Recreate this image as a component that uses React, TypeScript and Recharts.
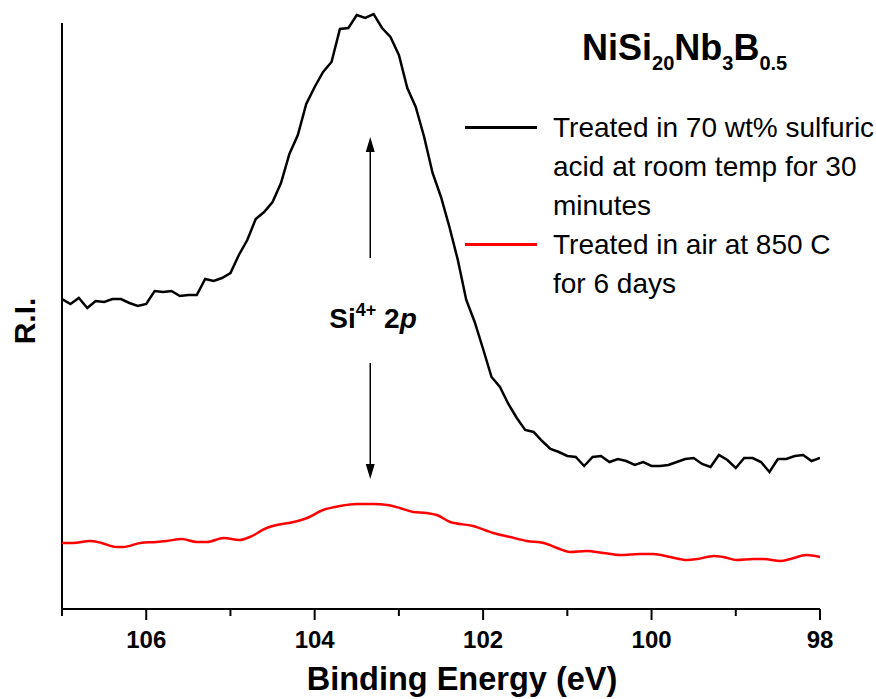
import React from "react";
import { LineChart, Line, XAxis, YAxis, ReferenceLine } from "recharts";

const FONT = "'Liberation Sans', Arial, sans-serif";

// black: treated in 70 wt% sulfuric acid
const acidEnergy = [
  107.0, 106.9, 106.8, 106.7, 106.6, 106.5, 106.4, 106.3, 106.2, 106.1,
  106.0, 105.9, 105.8, 105.7, 105.6, 105.5, 105.4, 105.3, 105.2, 105.1,
  105.0, 104.9, 104.8, 104.7, 104.6, 104.5, 104.4, 104.3, 104.2, 104.1,
  104.0, 103.9, 103.8, 103.7, 103.6, 103.5, 103.4, 103.3, 103.2, 103.1,
  103.0, 102.9, 102.8, 102.7, 102.6, 102.5, 102.4, 102.3, 102.2, 102.1,
  102.0, 101.9, 101.8, 101.7, 101.6, 101.5, 101.4, 101.3, 101.2, 101.1,
  101.0, 100.9, 100.8, 100.7, 100.6, 100.5, 100.4, 100.3, 100.2, 100.1,
  100.0, 99.9, 99.8, 99.7, 99.6, 99.5, 99.4, 99.3, 99.2, 99.1,
  99.0, 98.9, 98.8, 98.7, 98.6, 98.5, 98.4, 98.3, 98.2, 98.1,
  98.0,
];
const acidIntensity = [
  310, 305, 311, 301, 308, 307, 310, 310, 306, 303,
  305, 318, 317, 318, 313, 314, 314, 330, 328, 331,
  336, 354, 369, 390, 397, 407, 426, 455, 474, 505,
  522, 537, 547, 580, 581, 594, 591, 595, 581, 572,
  554, 521, 502, 472, 436, 412, 382, 349, 309, 287,
  260, 232, 222, 205, 191, 179, 177, 168, 160, 157,
  153, 152, 143, 152, 153, 147, 150, 148, 144, 147,
  143, 143, 144, 147, 150, 151, 145, 142, 154, 149,
  141, 151, 151, 147, 137, 150, 150, 153, 154, 148,
  151,
];

// red: treated in air at 850 C
const airEnergy = [
  107.0, 106.87, 106.67, 106.53, 106.35, 106.27, 106.07, 105.88, 105.76, 105.58,
  105.4, 105.28, 105.08, 104.89, 104.77, 104.57, 104.45, 104.25, 104.09, 103.9,
  103.7, 103.5, 103.3, 103.14, 102.99, 102.83, 102.67, 102.55, 102.39, 102.12,
  101.88, 101.68, 101.48, 101.28, 101.09, 100.97, 100.77, 100.57, 100.37, 100.14,
  99.98, 99.78, 99.58, 99.46, 99.26, 99.15, 98.99, 98.79, 98.67, 98.47,
  98.35, 98.16, 98.0,
];
const airIntensity = [
  66, 66, 68, 66, 62, 62, 66, 67, 68, 70,
  67, 67, 71, 69, 72, 81, 84, 87, 91, 99,
  103, 105, 105, 104, 101, 97, 96, 94, 87, 83,
  76, 72, 68, 66, 60, 57, 58, 56, 54, 55,
  55, 52, 49, 50, 53, 52, 49, 50, 50, 48,
  50, 54, 52,
];

const xTicks = [107, 106, 105, 104, 103, 102, 101, 100, 99, 98];

const acidData = acidEnergy.map((e, i) => ({ e, v: acidIntensity[i] }));
const airData = airEnergy.map((e, i) => ({ e, v: airIntensity[i] }));

const EnergyTick = (props: any) => {
  const { x, y, payload } = props;
  const major = payload.value % 2 === 0;
  return (
    <g>
      <line x1={x} y1={y} x2={x} y2={y + (major ? 11 : 7)} stroke="#000" strokeWidth={2} />
      {major && (
        <text x={x} y={y + 39} textAnchor="middle" fontSize={24} fontWeight="bold" fontFamily={FONT} fill="#000">
          {payload.value}
        </text>
      )}
    </g>
  );
};

const Arrow = (props: any) => {
  const { x1, y1, x2, y2 } = props;
  const dir = y2 < y1 ? 1 : -1;
  return (
    <g>
      <line x1={x1} y1={y1} x2={x2} y2={y2 + dir * 10} stroke="#000" strokeWidth={1.5} />
      <polygon points={`${x2},${y2} ${x2 - 4.5},${y2 + dir * 15} ${x2 + 4.5},${y2 + dir * 15}`} fill="#000" />
    </g>
  );
};

const legendRows = [
  { color: "#000000", lines: ["Treated in 70 wt% sulfuric", "acid at room temp for 30", "minutes"] },
  { color: "#ff0000", lines: ["Treated in air at 850 C", "for 6 days"] },
];

export default function App() {
  return (
    <div style={{ position: "fixed", left: 0, top: 0, width: 876, height: 699, background: "#fff", fontFamily: FONT }}>
      <LineChart width={876} height={699} margin={{ top: 10, right: 56, left: 62, bottom: 50 }}>
        <XAxis
          type="number"
          dataKey="e"
          domain={[98, 107]}
          reversed
          ticks={xTicks}
          interval={0}
          height={40}
          tickSize={0}
          tickMargin={0}
          tickLine={false}
          tick={<EnergyTick />}
          axisLine={{ stroke: "#000", strokeWidth: 2 }}
          allowDataOverflow
        />
        <YAxis type="number" domain={[0, 599]} hide width={0} allowDataOverflow />
        <ReferenceLine
          segment={[{ x: 107, y: 0 }, { x: 107, y: 586 }]}
          stroke="#000"
          strokeWidth={2}
          ifOverflow="visible"
        />
        <ReferenceLine segment={[{ x: 103.34, y: 351 }, { x: 103.34, y: 472 }]} shape={<Arrow />} ifOverflow="visible" />
        <ReferenceLine segment={[{ x: 103.34, y: 246 }, { x: 103.34, y: 130 }]} shape={<Arrow />} ifOverflow="visible" />
        <Line data={acidData} dataKey="v" type="linear" stroke="#000" strokeWidth={2.5} dot={false} isAnimationActive={false} />
        <Line data={airData} dataKey="v" type="monotone" stroke="#ff0000" strokeWidth={2.5} dot={false} isAnimationActive={false} />
      </LineChart>

      <div style={{ position: "absolute", left: 582, top: 26, fontSize: 36, fontWeight: "bold", whiteSpace: "nowrap", lineHeight: "44px" }}>
        NiSi<sub style={{ fontSize: 20, verticalAlign: -10 }}>20</sub>Nb<sub style={{ fontSize: 20, verticalAlign: -10 }}>3</sub>B
        <sub style={{ fontSize: 20, verticalAlign: -10 }}>0.5</sub>
      </div>

      <div style={{ position: "absolute", left: 465, top: 108 }}>
        {legendRows.map((row) => (
          <div key={row.color} style={{ position: "relative" }}>
            <div style={{ position: "absolute", left: 0, top: 18, width: 72, height: 2.5, background: row.color }} />
            {row.lines.map((t) => (
              <div key={t} style={{ marginLeft: 88, fontSize: 28, lineHeight: "39px", whiteSpace: "nowrap" }}>
                {t}
              </div>
            ))}
          </div>
        ))}
      </div>

      <div style={{ position: "absolute", left: 273, width: 200, top: 300, textAlign: "center", fontSize: 28, fontWeight: "bold", whiteSpace: "nowrap" }}>
        Si<sup style={{ fontSize: 18, verticalAlign: 12 }}>4+</sup> 2<i>p</i>
      </div>

      <div
        style={{
          position: "absolute",
          left: 25,
          top: 321,
          transform: "translate(-50%, -50%) rotate(-90deg)",
          fontSize: 30,
          fontWeight: "bold",
          whiteSpace: "nowrap",
        }}
      >
        R.I.
      </div>

      <div style={{ position: "absolute", left: 262, width: 400, top: 661, textAlign: "center", fontSize: 32.5, fontWeight: "bold", whiteSpace: "nowrap" }}>
        Binding Energy (eV)
      </div>
    </div>
  );
}
